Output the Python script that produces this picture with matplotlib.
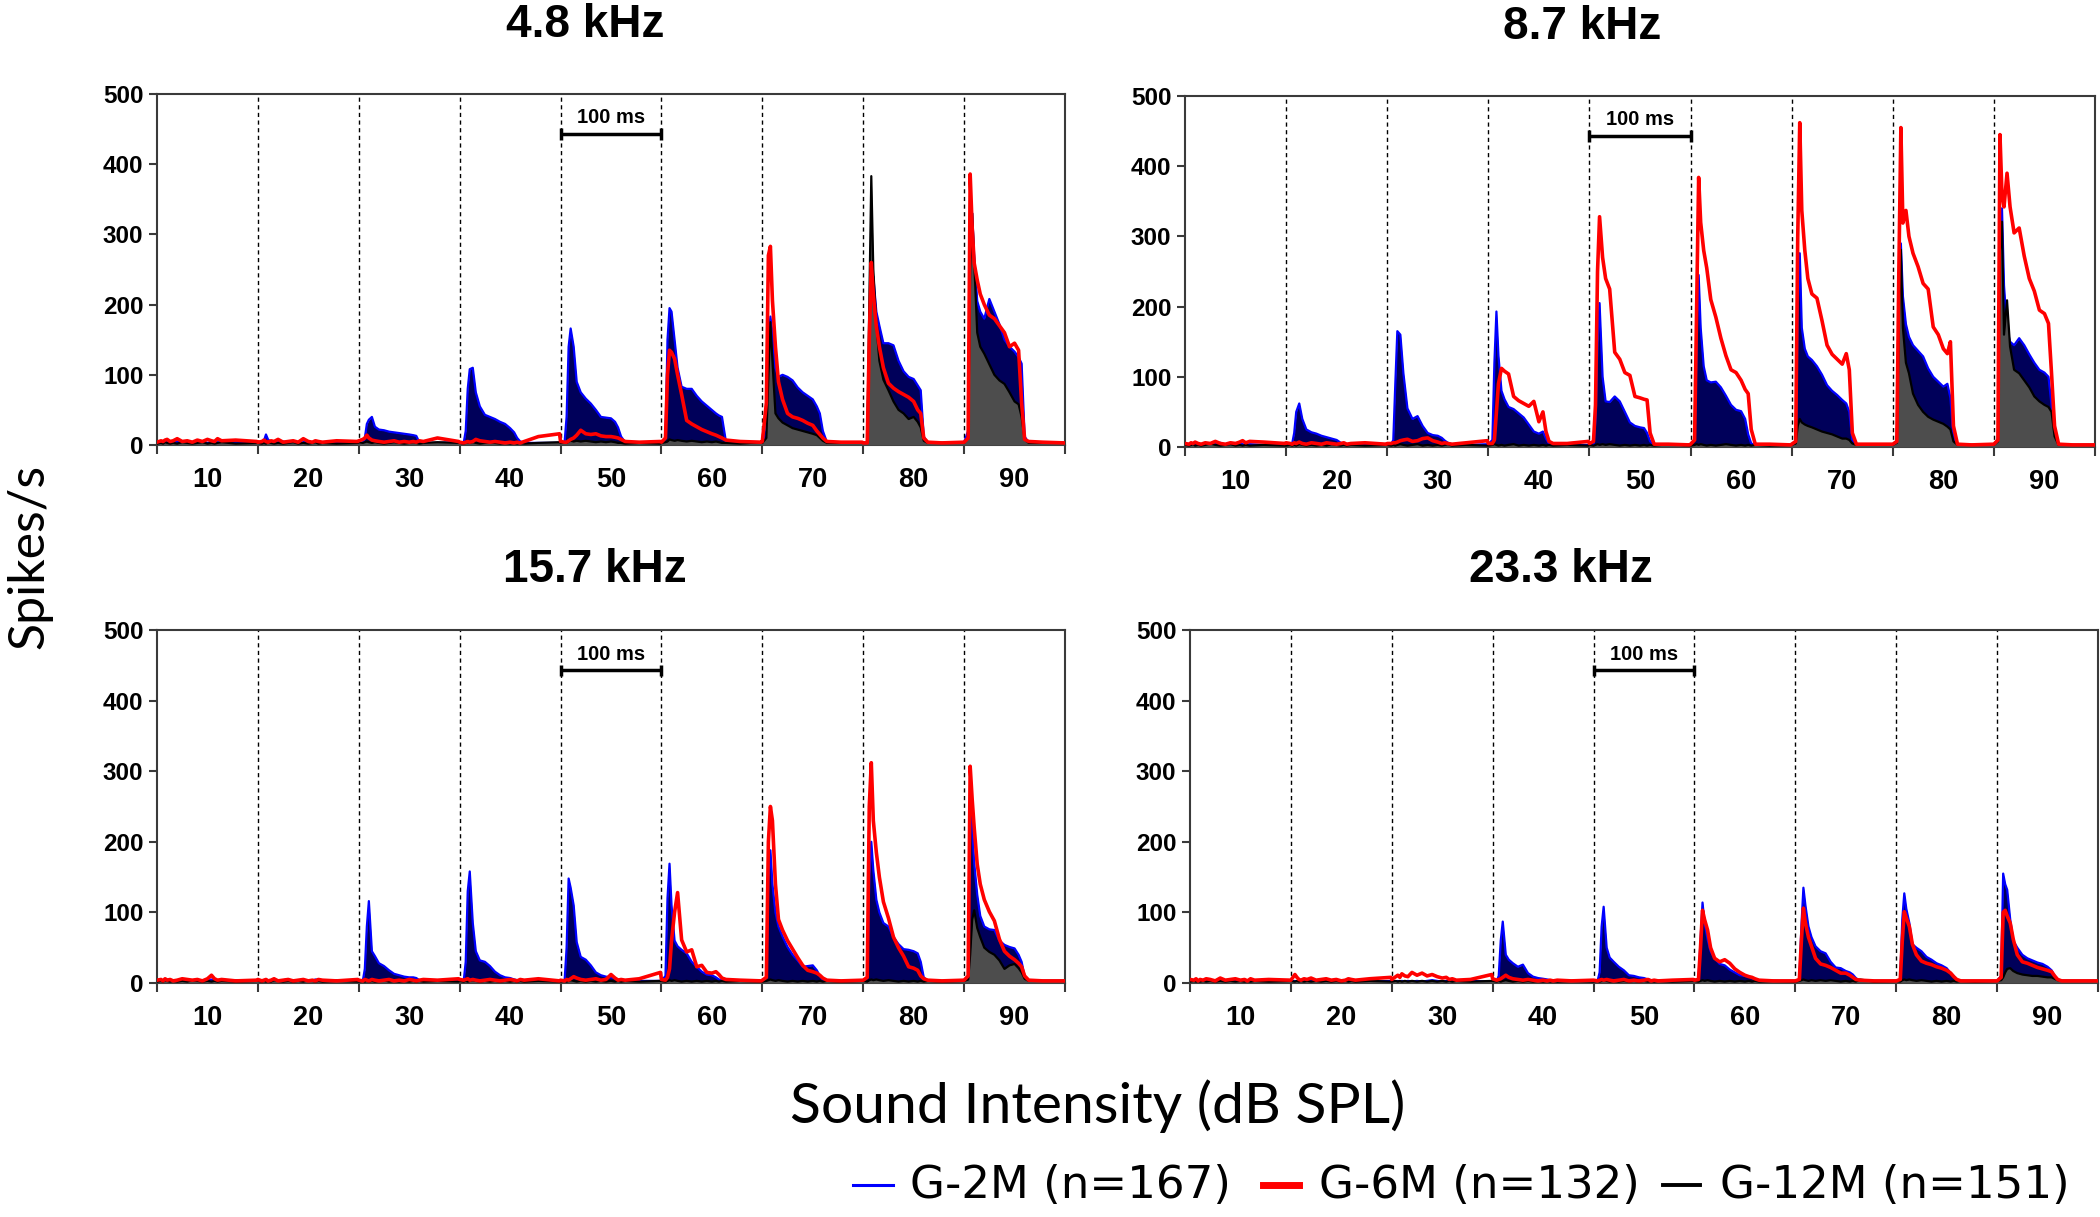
"""PSTH-style response profiles across sound intensity for four tone frequencies.

Blue fill = G-2M, red line = G-6M, black/grey fill = G-12M.
Each 10-dB column holds one 100-ms sweep.
"""

import matplotlib
matplotlib.use("Agg")
import matplotlib.pyplot as plt
from matplotlib.lines import Line2D

# --- Data ---
# sample times (ms) inside each 100-ms sweep
T_MS = [0, 4, 6, 8, 10, 13, 16, 20, 25, 30, 35, 40, 45, 50, 54, 57, 60, 64, 78, 99]
LEVELS = [10, 20, 30, 40, 50, 60, 70, 80, 90]
FREQS = ["4.8 kHz", "8.7 kHz", "15.7 kHz", "23.3 kHz"]
GROUPS = ["G-2M (n=167)", "G-6M (n=132)", "G-12M (n=151)"]

# 4.8 kHz
g2m_4k8 = [
    [3, 4, 3, 5, 4, 3, 4, 5, 3, 4, 3, 4, 5, 3, 4, 3, 4, 3, 4, 3],
    [4, 4, 6, 15, 8, 4, 3, 4, 5, 3, 4, 3, 4, 5, 3, 4, 3, 4, 3, 4],
    [3, 3, 10, 30, 36, 40, 26, 22, 21, 19, 18, 17, 16, 15, 14, 13, 4, 3, 3, 4],
    [3, 3, 20, 80, 108, 110, 75, 55, 43, 40, 37, 33, 30, 24, 18, 10, 5, 3, 3, 3],
    [4, 4, 40, 140, 166, 140, 90, 75, 66, 59, 50, 40, 39, 38, 33, 25, 12, 4, 4, 3],
    [3, 10, 150, 195, 190, 150, 110, 83, 80, 80, 70, 62, 56, 50, 45, 42, 40, 4, 3, 3],
    [4, 20, 150, 183, 160, 110, 97, 100, 97, 92, 82, 75, 70, 65, 55, 45, 20, 4, 3, 3],
    [3, 3, 150, 240, 240, 190, 170, 145, 145, 142, 120, 105, 97, 94, 85, 78, 12, 3, 3, 3],
    [4, 20, 300, 330, 268, 205, 190, 180, 208, 190, 172, 150, 140, 133, 125, 116, 12, 3, 3, 3],
]
g6m_4k8 = [
    [4, 6, 5, 7, 8, 5, 6, 9, 5, 6, 4, 7, 5, 8, 6, 5, 9, 6, 7, 5],
    [4, 5, 7, 5, 4, 6, 5, 8, 4, 5, 6, 4, 9, 5, 4, 6, 5, 4, 6, 5],
    [6, 8, 10, 14, 10, 7, 6, 5, 4, 5, 6, 4, 5, 4, 5, 4, 6, 5, 10, 5],
    [4, 3, 4, 5, 4, 5, 8, 6, 5, 4, 5, 4, 3, 4, 3, 4, 3, 5, 12, 16],
    [5, 4, 4, 6, 8, 10, 14, 21, 16, 15, 16, 13, 12, 12, 11, 10, 8, 5, 4, 5],
    [4, 10, 100, 135, 132, 123, 100, 72, 35, 30, 26, 22, 19, 16, 14, 12, 10, 7, 5, 4],
    [5, 60, 270, 283, 206, 140, 90, 65, 45, 40, 38, 35, 31, 28, 20, 15, 10, 5, 4, 4],
    [3, 3, 150, 260, 215, 169, 140, 110, 88, 81, 76, 72, 68, 62, 50, 45, 10, 4, 3, 4],
    [4, 10, 386, 310, 259, 235, 215, 200, 185, 180, 170, 160, 140, 145, 135, 60, 8, 5, 4, 3],
]
g12m_4k8 = [
    [2, 3, 2, 4, 3, 2, 3, 2, 4, 3, 2, 3, 4, 2, 3, 2, 3, 4, 2, 3],
    [3, 2, 3, 2, 4, 3, 2, 3, 2, 3, 4, 2, 3, 2, 3, 4, 2, 3, 2, 3],
    [4, 3, 4, 5, 4, 3, 4, 3, 2, 3, 4, 3, 2, 3, 4, 3, 2, 3, 4, 3],
    [3, 2, 3, 4, 3, 4, 3, 2, 3, 4, 3, 2, 3, 2, 3, 2, 3, 2, 3, 4],
    [3, 4, 3, 5, 6, 5, 6, 5, 6, 5, 4, 5, 4, 5, 4, 3, 3, 2, 3, 2],
    [3, 4, 5, 8, 7, 6, 7, 6, 5, 6, 5, 4, 5, 4, 5, 4, 3, 3, 2, 4],
    [3, 10, 100, 175, 120, 45, 38, 32, 28, 24, 22, 20, 18, 16, 14, 10, 6, 3, 3, 3],
    [3, 3, 200, 383, 250, 173, 120, 93, 78, 62, 50, 45, 37, 40, 33, 25, 6, 3, 3, 3],
    [3, 10, 250, 330, 263, 160, 140, 130, 115, 100, 92, 87, 75, 62, 58, 40, 8, 3, 3, 3],
]

# 8.7 kHz
g2m_8k7 = [
    [3, 4, 5, 3, 4, 3, 4, 5, 3, 4, 6, 3, 4, 3, 5, 4, 3, 4, 3, 4],
    [4, 4, 5, 20, 50, 62, 40, 25, 21, 19, 16, 14, 12, 10, 6, 4, 4, 3, 4, 3],
    [4, 4, 10, 90, 165, 160, 105, 55, 40, 44, 30, 20, 17, 16, 13, 9, 6, 4, 3, 4],
    [4, 10, 120, 193, 130, 80, 68, 57, 54, 48, 42, 32, 22, 19, 22, 12, 5, 3, 3, 3],
    [4, 4, 40, 150, 205, 100, 65, 64, 72, 65, 50, 35, 30, 28, 27, 20, 8, 3, 3, 3],
    [3, 10, 150, 245, 170, 115, 95, 92, 93, 85, 73, 60, 53, 51, 40, 18, 5, 3, 3, 3],
    [3, 8, 200, 276, 170, 140, 129, 124, 115, 103, 88, 80, 74, 67, 62, 50, 10, 3, 3, 3],
    [3, 8, 200, 290, 215, 175, 157, 145, 137, 129, 112, 100, 93, 86, 90, 70, 15, 3, 3, 3],
    [4, 10, 300, 340, 230, 168, 150, 145, 155, 145, 132, 120, 110, 106, 100, 60, 18, 3, 3, 3],
]
g6m_8k7 = [
    [5, 4, 6, 5, 7, 5, 4, 6, 5, 8, 5, 4, 6, 5, 7, 9, 6, 8, 7, 5],
    [6, 5, 4, 6, 5, 7, 5, 4, 6, 5, 4, 6, 5, 4, 5, 6, 4, 5, 6, 4],
    [5, 5, 6, 6, 7, 9, 10, 11, 8, 9, 12, 13, 9, 7, 5, 6, 5, 4, 6, 9],
    [5, 5, 10, 50, 90, 112, 108, 104, 72, 66, 62, 58, 65, 36, 50, 22, 8, 5, 5, 8],
    [5, 8, 60, 250, 328, 270, 240, 225, 135, 125, 106, 102, 72, 70, 68, 67, 20, 4, 4, 3],
    [4, 10, 200, 384, 320, 280, 255, 210, 185, 155, 130, 110, 106, 95, 82, 76, 25, 4, 4, 3],
    [4, 8, 300, 462, 337, 280, 240, 218, 212, 180, 145, 132, 125, 118, 133, 110, 20, 4, 4, 4],
    [4, 8, 250, 455, 319, 337, 300, 276, 257, 233, 225, 171, 160, 140, 133, 150, 30, 4, 3, 4],
    [4, 10, 445, 360, 342, 390, 342, 305, 312, 272, 240, 222, 195, 190, 176, 105, 30, 4, 3, 3],
]
g12m_8k7 = [
    [3, 2, 3, 4, 2, 3, 2, 3, 5, 3, 2, 3, 4, 2, 3, 2, 3, 2, 3, 2],
    [2, 3, 2, 3, 2, 4, 3, 2, 3, 2, 3, 2, 4, 3, 2, 3, 2, 3, 2, 3],
    [3, 2, 3, 2, 3, 4, 3, 2, 3, 4, 2, 3, 2, 3, 2, 3, 4, 2, 3, 2],
    [2, 3, 4, 3, 2, 3, 2, 3, 4, 2, 3, 2, 3, 2, 3, 2, 3, 2, 3, 2],
    [3, 2, 3, 4, 3, 4, 3, 4, 3, 2, 3, 2, 3, 2, 3, 2, 3, 2, 4, 2],
    [2, 3, 4, 3, 4, 3, 2, 3, 2, 3, 4, 3, 2, 3, 2, 3, 2, 3, 2, 3],
    [3, 5, 30, 40, 35, 32, 30, 28, 25, 22, 20, 18, 15, 12, 12, 10, 5, 3, 3, 3],
    [3, 6, 180, 281, 170, 120, 105, 76, 60, 50, 43, 39, 36, 33, 29, 25, 8, 3, 3, 3],
    [3, 8, 280, 321, 160, 209, 143, 110, 105, 95, 85, 72, 65, 60, 57, 50, 15, 3, 3, 3],
]

# 15.7 kHz
g2m_15k7 = [
    [3, 4, 3, 4, 5, 3, 4, 3, 5, 4, 3, 4, 3, 4, 5, 3, 4, 3, 4, 3],
    [3, 4, 3, 5, 4, 3, 4, 3, 4, 5, 3, 4, 3, 4, 3, 5, 4, 3, 4, 3],
    [3, 3, 20, 80, 116, 45, 38, 28, 24, 18, 13, 11, 9, 8, 8, 7, 4, 3, 3, 3],
    [3, 3, 30, 130, 158, 85, 45, 32, 30, 24, 16, 11, 8, 7, 5, 4, 4, 3, 3, 3],
    [3, 3, 50, 148, 135, 110, 58, 37, 33, 25, 15, 11, 9, 8, 7, 5, 4, 3, 3, 3],
    [3, 10, 120, 169, 110, 60, 52, 47, 42, 30, 23, 16, 12, 11, 8, 5, 4, 3, 3, 3],
    [3, 8, 150, 188, 140, 100, 80, 66, 51, 40, 32, 23, 24, 25, 18, 10, 5, 3, 3, 3],
    [3, 8, 150, 200, 160, 118, 100, 85, 80, 65, 55, 48, 47, 45, 42, 30, 8, 3, 3, 3],
    [3, 10, 280, 220, 170, 125, 95, 80, 76, 75, 60, 54, 51, 49, 40, 30, 9, 3, 3, 3],
]
g6m_15k7 = [
    [4, 5, 3, 6, 4, 5, 3, 4, 6, 5, 4, 5, 3, 6, 11, 6, 4, 5, 3, 4],
    [5, 3, 4, 5, 3, 4, 6, 3, 4, 5, 3, 4, 5, 3, 4, 3, 5, 4, 3, 5],
    [4, 3, 5, 4, 3, 5, 4, 3, 4, 5, 3, 4, 3, 5, 4, 3, 4, 5, 4, 6],
    [5, 4, 5, 6, 4, 5, 4, 3, 4, 5, 4, 3, 4, 5, 4, 3, 5, 4, 6, 3],
    [4, 3, 5, 4, 6, 9, 7, 5, 4, 5, 6, 4, 5, 12, 7, 4, 5, 4, 6, 15],
    [5, 4, 8, 20, 60, 100, 128, 61, 44, 47, 23, 25, 15, 14, 16, 12, 7, 5, 4, 3],
    [4, 8, 200, 250, 230, 140, 90, 75, 60, 48, 36, 25, 18, 16, 14, 11, 7, 4, 3, 4],
    [4, 8, 250, 312, 230, 185, 150, 115, 92, 65, 50, 38, 23, 21, 18, 10, 6, 4, 3, 4],
    [4, 10, 307, 260, 220, 168, 140, 118, 101, 88, 62, 45, 38, 33, 28, 23, 10, 4, 3, 3],
]
g12m_15k7 = [
    [2, 3, 2, 4, 3, 2, 3, 2, 3, 2, 4, 3, 2, 3, 2, 3, 2, 3, 2, 3],
    [3, 2, 3, 2, 3, 2, 4, 3, 2, 3, 2, 3, 2, 4, 3, 2, 3, 2, 3, 2],
    [2, 3, 2, 3, 2, 3, 2, 3, 4, 2, 3, 2, 3, 2, 3, 2, 3, 2, 3, 2],
    [3, 2, 3, 2, 3, 4, 3, 2, 3, 2, 3, 2, 3, 2, 3, 2, 3, 2, 3, 2],
    [2, 3, 2, 3, 4, 3, 2, 3, 2, 3, 2, 3, 2, 3, 2, 3, 2, 3, 2, 3],
    [3, 2, 3, 4, 3, 4, 3, 2, 3, 2, 3, 2, 3, 2, 3, 2, 3, 2, 3, 2],
    [2, 3, 4, 5, 4, 3, 4, 3, 2, 3, 2, 3, 2, 3, 2, 3, 2, 3, 2, 3],
    [3, 2, 4, 5, 4, 5, 4, 3, 4, 3, 2, 3, 2, 3, 2, 3, 2, 3, 2, 3],
    [3, 5, 40, 90, 103, 78, 65, 50, 44, 40, 32, 20, 25, 27, 21, 15, 6, 3, 3, 3],
]

# 23.3 kHz
g2m_23k3 = [
    [3, 2, 3, 4, 3, 2, 3, 2, 3, 4, 3, 2, 3, 2, 3, 2, 3, 4, 3, 2],
    [2, 3, 2, 3, 2, 3, 4, 3, 2, 3, 2, 3, 2, 3, 4, 3, 2, 3, 2, 3],
    [3, 2, 3, 2, 3, 2, 3, 2, 3, 2, 3, 4, 3, 2, 3, 2, 3, 2, 3, 2],
    [3, 3, 10, 60, 87, 40, 33, 28, 23, 26, 14, 9, 7, 6, 5, 4, 3, 3, 3, 3],
    [3, 3, 15, 80, 108, 50, 36, 30, 23, 18, 11, 10, 8, 7, 5, 4, 3, 3, 3, 3],
    [3, 5, 60, 114, 85, 62, 45, 35, 27, 25, 19, 15, 11, 10, 9, 7, 5, 4, 3, 3],
    [3, 5, 80, 135, 110, 80, 65, 52, 45, 42, 30, 22, 21, 17, 15, 12, 7, 3, 3, 3],
    [3, 5, 90, 127, 105, 85, 55, 50, 45, 37, 33, 28, 25, 21, 14, 10, 5, 3, 3, 3],
    [3, 10, 155, 140, 132, 90, 60, 50, 40, 35, 32, 29, 27, 23, 18, 10, 5, 3, 3, 3],
]
g6m_23k3 = [
    [5, 4, 6, 3, 5, 4, 6, 5, 3, 7, 4, 5, 6, 4, 5, 3, 6, 4, 5, 4],
    [4, 12, 8, 5, 4, 6, 5, 7, 4, 5, 6, 4, 5, 3, 4, 6, 5, 4, 6, 8],
    [5, 9, 11, 8, 13, 10, 9, 15, 11, 14, 10, 12, 9, 7, 8, 5, 6, 4, 5, 12],
    [6, 4, 5, 6, 8, 11, 8, 6, 5, 4, 5, 4, 3, 4, 3, 4, 3, 4, 3, 4],
    [4, 3, 4, 5, 4, 5, 4, 3, 4, 5, 3, 4, 3, 4, 5, 3, 4, 3, 4, 5],
    [4, 5, 50, 103, 90, 75, 50, 35, 30, 33, 28, 20, 15, 11, 9, 8, 6, 4, 3, 3],
    [3, 5, 60, 106, 85, 65, 52, 35, 27, 25, 22, 18, 14, 14, 11, 8, 5, 4, 3, 3],
    [3, 5, 60, 101, 92, 80, 55, 40, 31, 28, 26, 23, 21, 18, 14, 9, 5, 3, 3, 3],
    [3, 8, 100, 103, 95, 85, 62, 40, 30, 28, 25, 22, 20, 18, 16, 10, 5, 3, 3, 3],
]
g12m_23k3 = [
    [2, 3, 2, 3, 2, 3, 2, 3, 2, 3, 2, 3, 2, 3, 2, 3, 2, 3, 2, 3],
    [3, 2, 3, 2, 3, 2, 3, 2, 3, 2, 3, 2, 3, 2, 3, 2, 3, 2, 3, 2],
    [2, 3, 2, 3, 2, 3, 2, 3, 2, 3, 2, 3, 2, 3, 2, 3, 2, 3, 2, 3],
    [3, 2, 3, 2, 3, 4, 3, 2, 3, 2, 3, 2, 3, 2, 3, 2, 3, 2, 3, 2],
    [2, 3, 2, 3, 4, 3, 2, 3, 2, 3, 2, 3, 2, 3, 2, 3, 2, 3, 2, 3],
    [3, 2, 3, 4, 3, 4, 3, 2, 3, 2, 3, 2, 3, 2, 3, 2, 3, 2, 3, 2],
    [2, 3, 4, 5, 4, 3, 4, 3, 4, 3, 4, 3, 2, 3, 2, 3, 2, 5, 2, 3],
    [3, 2, 4, 5, 4, 5, 4, 3, 4, 3, 2, 3, 2, 3, 2, 3, 2, 3, 2, 3],
    [3, 4, 8, 15, 20, 21, 17, 14, 12, 11, 10, 10, 9, 8, 8, 6, 4, 3, 3, 3],
]

PANELS = [
    (g2m_4k8, g6m_4k8, g12m_4k8),
    (g2m_8k7, g6m_8k7, g12m_8k7),
    (g2m_15k7, g6m_15k7, g12m_15k7),
    (g2m_23k3, g6m_23k3, g12m_23k3),
]

# --- Style ---
W, H = 2100, 1217
BLUE = "#0000ff"
NAVY = "#00005a"
RED = "#ff0000"
GREY = "#4d4d4d"
SPINE = "#3a3a3a"
BOLD = ["Liberation Sans", "DejaVu Sans"]
CAL = ["Lato", "DejaVu Sans"]

# axes boxes in pixels: left, top, right, bottom
BOXES = [(157, 94, 1065, 445), (1185, 96, 2095, 447),
         (157, 630, 1065, 983), (1190, 630, 2098, 983)]
TITLE_XY = [(585, 25), (1582, 27), (595, 570), (1561, 570)]


def fig_rect(box):
    l, t, r, b = box
    return [l / W, 1 - b / H, (r - l) / W, (b - t) / H]


def trace(segments):
    """Lay the 100-ms sweeps side by side on the dB axis."""
    xs, ys = [], []
    for lvl, seg in zip(LEVELS, segments):
        xs += [lvl - 5 + t / 10.0 for t in T_MS]
        ys += seg
    return xs, ys


fig = plt.figure(figsize=(W / 100, H / 100), dpi=100)

for k, (g2, g6, g12) in enumerate(PANELS):
    ax = fig.add_axes(fig_rect(BOXES[k]))

    x2, y2 = trace(g2)
    ax.fill_between(x2, y2, 0, color=NAVY, lw=0, zorder=2)
    ax.plot(x2, y2, color=BLUE, lw=1.6, zorder=2.1)

    x12, y12 = trace(g12)
    ax.fill_between(x12, y12, 0, color=GREY, lw=0, zorder=3)
    ax.plot(x12, y12, color="black", lw=1.6, zorder=3.1)

    x6, y6 = trace(g6)
    ax.plot(x6, y6, color=RED, lw=2.6, zorder=4)

    # sweep boundaries
    bounds = [lv - 5 for lv in LEVELS] + [LEVELS[-1] + 5]
    ax.vlines(bounds[1:-1], 0, 500, colors="black", lw=1.0,
              linestyles=(0, (3, 2.5)), zorder=1)

    # 100 ms scale bar over the 50 dB sweep
    ax.hlines(443, 45, 55, colors="black", lw=2.5, zorder=5)
    ax.vlines([45, 55], 435, 451, colors="black", lw=2.5, zorder=5)
    ax.text(50, 466, "100 ms", ha="center", va="center", fontsize=14.5,
            fontweight="bold", family=BOLD)

    ax.set_xlim(5, 95)
    ax.set_ylim(0, 500)
    ax.set_yticks(range(0, 501, 100))
    ax.set_xticks(bounds)
    ax.set_xticklabels([])
    ax.set_xticks(LEVELS, minor=True)
    ax.set_xticklabels([str(v) for v in LEVELS], minor=True)
    ax.tick_params(axis="x", which="major", length=6.5, width=1.5,
                   color=SPINE)
    ax.tick_params(axis="x", which="minor", length=0, pad=16)
    ax.tick_params(axis="y", length=5.8, width=1.5, color=SPINE, pad=4)
    for lab in ax.get_xticklabels(minor=True):
        lab.set_fontsize(19.5)
        lab.set_fontweight("bold")
        lab.set_family(BOLD)
    for lab in ax.get_yticklabels():
        lab.set_fontsize(17.5)
        lab.set_fontweight("bold")
        lab.set_family(BOLD)
    for sp in ax.spines.values():
        sp.set_color(SPINE)
        sp.set_linewidth(1.5)

    tx, ty = TITLE_XY[k]
    fig.text(tx / W, 1 - ty / H, FREQS[k], ha="center", va="center",
             fontsize=33, fontweight="bold", family=BOLD)

fig.text(29 / W, 1 - 556 / H, "Spikes/s", rotation=90, ha="center",
         va="center", fontsize=36, family=CAL)
fig.text(1098 / W, 1 - 1106 / H, "Sound Intensity (dB SPL)", ha="center",
         va="center", fontsize=41, family=CAL)

# legend drawn in figure pixels
legend_y = 1 - 1185 / H
handles = [(853, 893, BLUE, 2.2), (1263, 1299, RED, 5.0), (1663, 1700, "black", 2.8)]
text_x = [910, 1319, 1720]
for (x0, x1, c, lw), tx, lab in zip(handles, text_x, GROUPS):
    fig.add_artist(Line2D([x0 / W, x1 / W], [legend_y, legend_y],
                          transform=fig.transFigure, color=c, lw=lw))
    fig.text(tx / W, legend_y, lab, ha="left", va="center", fontsize=32.5,
             family=["DejaVu Sans"])

fig.savefig("out.png", dpi=100)
plt.close(fig)
